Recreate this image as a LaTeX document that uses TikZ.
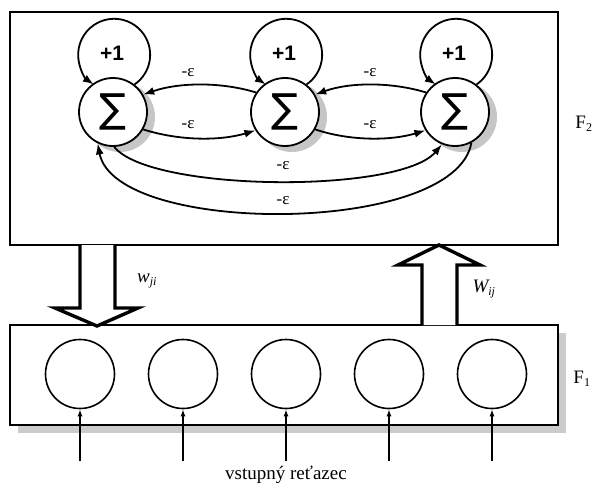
\documentclass[tikz,border=0pt]{standalone}
\usepackage{fontspec}
\setmainfont{Liberation Serif}
\newfontfamily\lsans{Liberation Sans}
\newfontfamily\djsans{DejaVu Sans}
\usetikzlibrary{arrows.meta,calc}
\begin{document}
\begin{tikzpicture}[x=1pt,y=-1pt,
  sig/.style={circle,draw,line width=1.8pt,fill=white,minimum size=68pt,inner sep=0pt,
    font=\djsans\fontsize{40}{40}\selectfont},
  shad/.style={circle,fill=gray!45,minimum size=70pt,inner sep=0pt},
  inp/.style={circle,draw,line width=1.6pt,minimum size=69pt,inner sep=0pt},
  con/.style={line width=1.8pt,-{Latex[length=11pt,width=8pt]}},
  eps/.style={font=\fontsize{17}{17}\selectfont},
  plus/.style={font=\lsans\bfseries\fontsize{21}{21}\selectfont},
  hollow/.style={line width=3.4pt,fill=white,line join=miter},
  lab/.style={font=\fontsize{19}{19}\selectfont},
  wlab/.style={font=\itshape\fontsize{19}{19}\selectfont}
]
\useasboundingbox (0,0) rectangle (592,487);
% boxes
\fill[gray!40] (558,333) rectangle (566,433);
\fill[gray!40] (18,425) rectangle (566,433);
\node[draw,line width=2.6pt,minimum width=548pt,minimum height=233pt,inner sep=0pt] (f2) at (284,128.5) {};
\node[draw,line width=2.2pt,fill=white,minimum width=548pt,minimum height=100pt,inner sep=0pt] (f1) at (284,375) {};
% shadows of sigma nodes
\node[shad] at (120,117) {};
\node[shad] at (292,117) {};
\node[shad] at (462,117) {};
% sigma nodes
\node[sig] (s1) at (113,112) {∑};
\node[sig] (s2) at (285,112) {∑};
\node[sig] (s3) at (455,112) {∑};
% self loops
\foreach \s in {s1,s2,s3}{
  \draw[con] (\s.52) arc[start angle=55.6,end angle=-235.6,radius=36];
  \node[plus] at ($(\s.center)+(-1,-59)$) {+1};
}
% neighbour connections
\draw[con] (s2.146) .. controls (222,82) and (180,82) .. (s1.30);
\draw[con] (s1.-30) .. controls (180,141) and (220,141) .. (s2.-148);
\draw[con] (s3.146) .. controls (392,82) and (350,82) .. (s2.30);
\draw[con] (s2.-30) .. controls (350,141) and (390,141) .. (s3.-148);
\node[eps] (e1) at (188,73) {-ε};
\node[eps] (e2) at (188,125) {-ε};
\node[eps] (e3) at (370,73) {-ε};
\node[eps] (e4) at (370,125) {-ε};
% long connections
\draw[con] (s1.-88) .. controls (150,192) and (400,194) .. (s3.-112);
\draw[con] (s3.-62) .. controls (455,236) and (115,236) .. (s1.-116);
\node[eps] (e5) at (283,166) {-ε};
\node[eps] (e6) at (283,201) {-ε};
% hollow arrows
\draw[hollow] (80,245) -- (80,308) -- (55,308) -- (97,326) -- (138,308) -- (115,308) -- (115,245);
\draw[hollow] (422,325) -- (422,265) -- (398,265) -- (439,245) -- (480,265) -- (457,265) -- (457,325);
\node[wlab] (wji) at (147,281) {w\textsubscript{\fontsize{12}{12}\selectfont ji}};
\node[wlab] (wij) at (484,289) {W\textsubscript{\fontsize{12}{12}\selectfont ij}};
% labels
\node[lab] (lf2) at (584,124) {F\textsubscript{\fontsize{12}{12}\selectfont 2}};
\node[lab] (lf1) at (582,379) {F\textsubscript{\fontsize{12}{12}\selectfont 1}};
% input layer
\foreach \i/\x in {1/80,2/183,3/286,4/389,5/492}{
  \node[inp] (n\i) at (\x,374) {};
  \coordinate (in\i) at (\x,461);
  \draw[line width=1.8pt,-{Latex[length=7pt,width=5pt]}] (in\i) -- (n\i.south);
}
\node[font=\fontsize{19}{19}\selectfont] (vs) at (286,475) {vstupný reťazec};
\end{tikzpicture}
\end{document}
